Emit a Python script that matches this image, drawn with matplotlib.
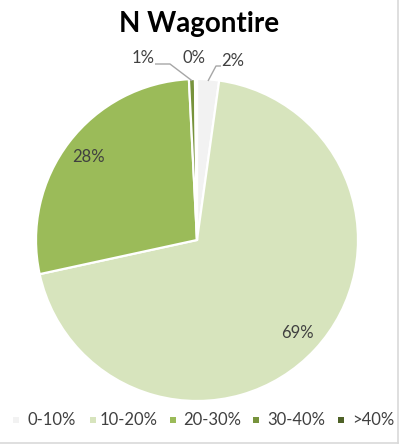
import matplotlib
matplotlib.use("Agg")
import matplotlib.pyplot as plt
import numpy as np
from matplotlib.lines import Line2D
from matplotlib.patches import Rectangle

plt.rcParams['font.family'] = ['Lato', 'DejaVu Sans']

title = "N Wagontire"
categories = ["0-10%", "10-20%", "20-30%", "30-40%", ">40%"]
shares = [2.2, 69.4, 27.6, 0.6, 0.2]
labels = ["2%", "69%", "28%", "1%", "0%"]
colors = ["#F2F2F2", "#D7E4BD", "#9BBB59", "#77933C", "#4F6228"]

W, H = 399, 447
fig = plt.figure(figsize=(W / 100, H / 100), dpi=100)

# pie axes: centre (197, 240) px, radius 161 px
cx, cy, r = 197, 240, 161
ax = fig.add_axes([(cx - r) / W, 1 - (cy + r) / H, 2 * r / W, 2 * r / H])
wedges, _ = ax.pie(shares, colors=colors, startangle=90, counterclock=False,
                   radius=1.0, wedgeprops=dict(edgecolor="white", linewidth=1.6))
ax.set_xlim(-1, 1)
ax.set_ylim(-1, 1)
ax.set_aspect("equal")
ax.axis("off")

label_color = "#404040"
lead_color = "#A6A6A6"

def mid_dir(w):
    a = np.deg2rad((w.theta1 + w.theta2) / 2)
    return np.cos(a), np.sin(a)

# large slices: labels inside
for i in (1, 2):
    dx, dy = mid_dir(wedges[i])
    ax.text(0.85 * dx, 0.85 * dy, labels[i], ha="center", va="center",
            fontsize=12, color=label_color)

# small slices: labels outside with leader lines
def px(x, y):
    return (x - cx) / r, (cy - y) / r

outside = {
    0: dict(text=px(233, 61), path=[px(221, 66), px(216, 66)]),
    3: dict(text=px(143, 58), path=[px(155, 64), px(170, 64)]),
    4: dict(text=px(194, 58), path=None),
}
for i, spec in outside.items():
    tx, ty = spec["text"]
    ax.text(tx, ty, labels[i], ha="center", va="center", fontsize=12,
            color=label_color)
    if spec["path"]:
        dx, dy = mid_dir(wedges[i])
        xs = [p[0] for p in spec["path"]] + [dx * 0.99]
        ys = [p[1] for p in spec["path"]] + [dy * 0.99]
        ax.plot(xs, ys, color=lead_color, lw=1.0, clip_on=False,
                solid_capstyle="butt")

fig.text(0.5, 1 - 32 / H, title, ha="center", va="baseline",
         fontsize=20, fontweight="bold", color="black")

# legend row: square key + label for each category
key_x = [13, 90, 170, 253, 338]
text_x = [27, 100, 183, 267, 352]
row_y = 420
for c, name, kx, tx in zip(colors, categories, key_x, text_x):
    fig.add_artist(Rectangle((kx / W, 1 - (row_y + 3) / H), 6 / W, 6 / H,
                             transform=fig.transFigure, facecolor=c,
                             edgecolor="none"))
    fig.text(tx / W, 1 - row_y / H, name, ha="left", va="center",
             fontsize=12, color=label_color)

# chart-area border on the right and bottom
fig.add_artist(Line2D([0, 1 - 1.5 / W], [1 - 443 / H] * 2, transform=fig.transFigure,
                      color="#D9D9D9", lw=1.2))
fig.add_artist(Line2D([1 - 1.5 / W] * 2, [1 - 443 / H, 1], transform=fig.transFigure,
                      color="#D9D9D9", lw=1.2))

fig.savefig("out.png", dpi=100, facecolor="white")
